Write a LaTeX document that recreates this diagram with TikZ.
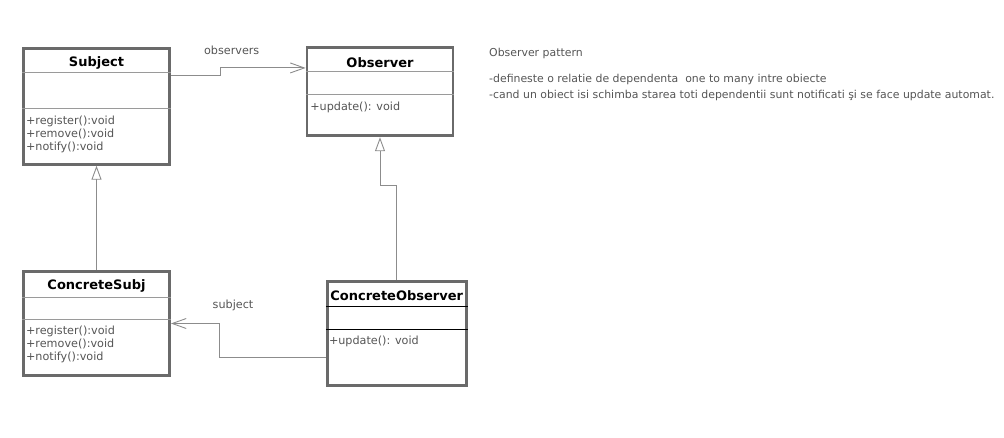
\documentclass[tikz,border=0pt]{standalone}
\usepackage{fontspec}
\setmainfont{DejaVu Sans}
\usepackage{xcolor}
\usepackage{tikz}
\usetikzlibrary{arrows.meta,positioning}
\definecolor{UBorder}{HTML}{6A6A6A}
\definecolor{USep}{HTML}{9A9A9A}
\definecolor{UConn}{HTML}{8C8C8C}
\definecolor{UText}{HTML}{555555}

\begin{document}
\begin{tikzpicture}[
  x=1pt,y=-1pt,
  cls/.style={draw=UBorder,line width=2.8pt,fill=white,inner sep=0},
  ttl/.style={font=\bfseries\fontsize{13}{15}\selectfont,text=black,inner sep=0},
  ops/.style={font=\fontsize{11.2}{13}\selectfont,text=UText,align=left,
    anchor=west,inner sep=0},
  lbl/.style={font=\fontsize{11.2}{13}\selectfont,text=UText,inner sep=0},
  note/.style={font=\fontsize{10.9}{15.5}\selectfont,text=UText,align=left,
    anchor=north west,inner sep=0},
  inh/.style={draw=UConn,line width=0.9pt,
    -{Triangle[open,length=14pt,width=10pt,line width=0.9pt]}},
  assoc/.style={draw=UConn,line width=0.9pt,
    -{Straight Barb[length=14pt,width=10pt,line width=0.9pt]}}
]
  \useasboundingbox (0,0) rectangle (1004,438);
  % class boxes
  \node[cls,minimum width=146pt,minimum height=116pt] (subj) at (96.5,106.3) {};
  \node[cls,minimum width=146pt,minimum height=88.7pt] (obs) at (380,91.5) {};
  \node[cls,minimum width=146pt,minimum height=104pt] (csubj) at (96.5,323.5) {};
  \node[cls,minimum width=139pt,minimum height=104pt] (cobs) at (396.7,333.3) {};
  % compartments
  \foreach \b/\h/\a/\c in {subj/26/61.7/USep,obs/26.2/48.5/USep,
      csubj/27.5/49.5/USep,cobs/27/49.4/black}
    {\draw[\c,line width=0.9pt] ([yshift=-\h pt]\b.north west) -- ([yshift=-\h pt]\b.north east);
     \draw[\c,line width=0.9pt] ([yshift=-\a pt]\b.north west) -- ([yshift=-\a pt]\b.north east);}
  % titles
  \node[ttl] (subjname) at ([yshift=-16pt]subj.north) {Subject};
  \node[ttl] (obsname) at ([yshift=-16.5pt]obs.north) {Observer};
  \node[ttl] (csubjname) at ([yshift=-16pt]csubj.north) {ConcreteSubj};
  \node[ttl] (cobsname) at ([yshift=-16pt]cobs.north) {ConcreteObserver};
  % operations
  \node[ops] (subjops) at ([xshift=3.8pt,yshift=-87.7pt]subj.north west)
    {+register():void\\+remove():void\\+notify():void};
  \node[ops] (obsops) at ([xshift=4.5pt,yshift=-61.5pt]obs.north west) {+update(): void};
  \node[ops] (csubjops) at ([xshift=3.8pt,yshift=-74.5pt]csubj.north west)
    {+register():void\\+remove():void\\+notify():void};
  \node[ops] (cobsops) at ([xshift=3pt,yshift=-61.7pt]cobs.north west) {+update(): void};
  % relations
  \draw[inh] (csubj.north) -- (subj.south);
  \draw[inh] (cobs.north) -- ++(0,-94) -| (obs.south);
  \draw[assoc] ([yshift=-28.4pt]subj.north east) -- ++(49.5,0) |- ([yshift=-22.2pt]obs.north west);
  \draw[assoc] ([yshift=-78pt]cobs.north west) -- ++(-106.5,0) |- (csubj.east);
  \node[lbl] (observers) at (231.7,50) {observers};
  \node[lbl] (subject) at (233,305.5) {subject};
  % note
  \node[note] (pattern) at (489,48) {Observer pattern\\[11pt]
    -defineste o relatie de dependenta\ \ one to many intre obiecte\\
    -cand un obiect isi schimba starea toti dependentii sunt notificati şi se face update automat.};
\end{tikzpicture}
\end{document}
